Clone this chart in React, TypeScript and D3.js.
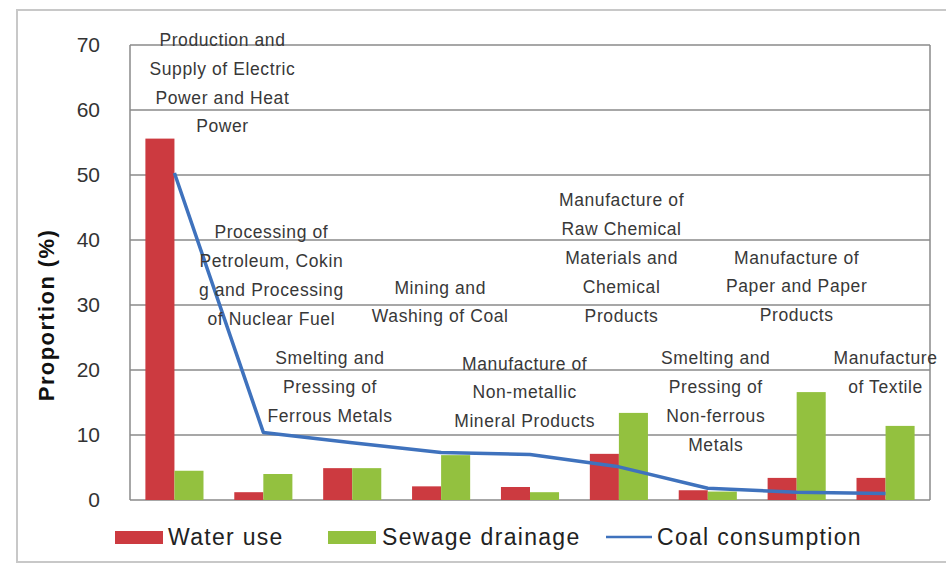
import React from "react";
import * as d3 from "d3";

const categories = [
  "Production and Supply of Electric Power and Heat Power",
  "Processing of Petroleum, Coking and Processing of Nuclear Fuel",
  "Smelting and Pressing of Ferrous Metals",
  "Mining and Washing of Coal",
  "Manufacture of Non-metallic Mineral Products",
  "Manufacture of Raw Chemical Materials and Chemical Products",
  "Smelting and Pressing of Non-ferrous Metals",
  "Manufacture of Paper and Paper Products",
  "Manufacture of Textile",
];

const labelLines = [
  ["Production and", "Supply of Electric", "Power and Heat", "Power"],
  ["Processing of", "Petroleum, Cokin", "g and Processing", "of Nuclear Fuel"],
  ["Smelting and", "Pressing of", "Ferrous Metals"],
  ["Mining and", "Washing of Coal"],
  ["Manufacture of", "Non-metallic", "Mineral Products"],
  ["Manufacture of", "Raw Chemical", "Materials and", "Chemical", "Products"],
  ["Smelting and", "Pressing of", "Non-ferrous", "Metals"],
  ["Manufacture of", "Paper and Paper", "Products"],
  ["Manufacture", "of  Textile"],
];

// label anchor: horizontal offset in category units, top line value
const labelOffsetX = [0.54, 0.09, -0.25, -0.01, -0.06, 0.03, 0.09, 0.0, 0.0];
const labelTopValue = [70.8, 41.2, 21.8, 32.7, 21.0, 46.1, 21.8, 37.3, 21.8];

const waterUse = [55.6, 1.2, 4.9, 2.1, 2.0, 7.1, 1.5, 3.4, 3.4];
const sewageDrainage = [4.5, 4.0, 4.9, 6.9, 1.2, 13.4, 1.3, 16.6, 11.4];
const coalConsumption = [50.3, 10.4, 8.8, 7.3, 7.0, 5.1, 1.8, 1.2, 1.0];

const yTicks = [0, 10, 20, 30, 40, 50, 60, 70];
const seriesNames = ["Water use", "Sewage drainage", "Coal consumption"];

const RED = "#cc3a40";
const GREEN = "#93c13f";
const BLUE = "#3f72bd";

export default function App() {
  const W = 946, H = 576;
  const left = 130, right = 930, top = 45, bottom = 500;
  const x = d3.scaleBand<number>().domain(d3.range(categories.length)).range([left, right]).padding(0);
  const inner = d3.scaleBand<number>().domain([0, 1]).range([0, x.bandwidth()]).paddingInner(0).paddingOuter(0.53);
  const y = d3.scaleLinear().domain([0, 70]).range([bottom, top]);
  const line = d3.line<number>()
    .x((_, i) => (x(i) as number) + x.bandwidth() / 2)
    .y((d) => y(d));
  const font = "'Liberation Sans', Arial, sans-serif";
  const lineH = 28.8;

  return (
    <svg width={W} height={H} style={{ position: "absolute", left: 0, top: 0, background: "#fff" }} fontFamily={font}>
      <rect x={17} y={10} width={960} height={552} fill="#fff" stroke="#c8c8c8" strokeWidth={2} />
      {/* gridlines */}
      {yTicks.map((t) => (
        <line key={t} x1={left} x2={right} y1={y(t)} y2={y(t)} stroke="#8a8a8a" strokeWidth={1.5} />
      ))}
      <line x1={right} x2={right} y1={top} y2={bottom} stroke="#8a8a8a" strokeWidth={1.5} />
      <line x1={left} x2={left} y1={top} y2={bottom} stroke="#8a8a8a" strokeWidth={1.5} />
      {yTicks.map((t) => (
        <text key={t} x={100} y={y(t)} dy="0.35em" textAnchor="end" fontSize={21} fill="#333">{t}</text>
      ))}
      <text transform={`translate(46,315) rotate(-90)`} textAnchor="middle" dy="0.35em" fontSize={22} fontWeight="bold" letterSpacing={1.4} fill="#111">Proportion (%)</text>
      {/* bars */}
      {categories.map((c, i) => (
        <g key={c} transform={`translate(${x(i)},0)`}>
          <rect x={inner(0)} width={inner.bandwidth()} y={y(waterUse[i])} height={y(0) - y(waterUse[i])} fill={RED} />
          <rect x={inner(1)} width={inner.bandwidth()} y={y(sewageDrainage[i])} height={y(0) - y(sewageDrainage[i])} fill={GREEN} />
        </g>
      ))}
      <path d={line(coalConsumption) || ""} fill="none" stroke={BLUE} strokeWidth={3.5} strokeLinejoin="round" />
      {/* category labels */}
      {labelLines.map((lines, i) => {
        const cx = (x(i) as number) + x.bandwidth() / 2 + labelOffsetX[i] * x.bandwidth();
        const ty = y(labelTopValue[i]);
        return (
          <text key={i} textAnchor="middle" fontSize={17.5} fill="#383838" letterSpacing={0.6}>
            {lines.map((l, j) => (
              <tspan key={j} x={cx} y={ty + j * lineH} dy="0.35em">{l}</tspan>
            ))}
          </text>
        );
      })}
      {/* legend */}
      <g fontSize={23} fill="#222" letterSpacing={1.3}>
        <rect x={115} y={531} width={48} height={13} fill={RED} />
        <text x={168} y={537} dy="0.35em">{seriesNames[0]}</text>
        <rect x={328} y={531} width={48} height={13} fill={GREEN} />
        <text x={382} y={537} dy="0.35em">{seriesNames[1]}</text>
        <line x1={606} x2={652} y1={537} y2={537} stroke={BLUE} strokeWidth={2.5} />
        <text x={657} y={537} dy="0.35em">{seriesNames[2]}</text>
      </g>
    </svg>
  );
}
